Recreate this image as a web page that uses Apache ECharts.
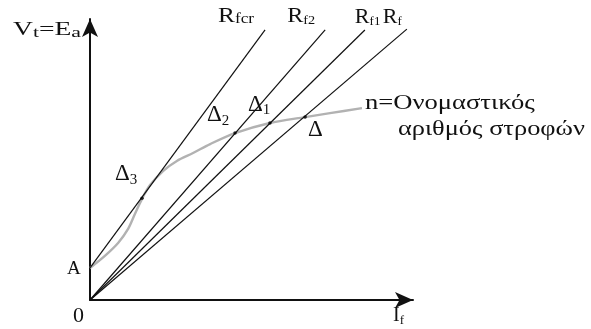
<!DOCTYPE html>
<html>
<head>
<meta charset="utf-8">
<script src="https://cdn.jsdelivr.net/npm/echarts@6/dist/echarts.min.js"></script>
<style>
html,body{margin:0;padding:0;background:#fff;}
#c{width:591px;height:329px;}
</style>
</head>
<body>
<div id="c"></div>
<script>
// No-load magnetisation curve at rated speed: field current I_f vs terminal voltage V_t = E_a
const curveIf = [0.00, 0.46, 0.87, 1.18, 1.39, 1.61, 1.86, 2.26, 2.69, 3.19, 3.72, 4.49, 5.57, 6.66, 7.43, 8.42];
const curveE  = [1.14, 1.57, 2.03, 2.53, 3.06, 3.60, 4.09, 4.59, 4.95, 5.23, 5.55, 5.94, 6.30, 6.51, 6.65, 6.83];

// Field-resistance lines (start and end points)
const lineKeys    = ['fcr', 'f2', 'f1', 'f'];
const lineStartIf = [0, 0, 0, 0];
const lineStartE  = [1.14, 0, 0, 0];
const lineEndIf   = [5.42, 7.28, 8.51, 9.81];
const lineEndE    = [9.61, 9.61, 9.61, 9.64];

// Operating points where each resistance line meets the curve
const pointKeys = ['3', '2', '1', ''];
const pointIf   = [1.61, 4.49, 5.57, 6.66];
const pointE    = [3.62, 5.94, 6.30, 6.51];

const FONT = '"Liberation Serif","Times New Roman",serif';
const INK = '#111';

const chart = echarts.init(document.getElementById('c'), null, {renderer: 'canvas'});

const series = [];
series.push({
  type: 'line',
  data: curveIf.map((x, i) => [x, curveE[i]]),
  smooth: 0.3,
  showSymbol: false,
  lineStyle: {color: '#b2b2b2', width: 2.4},
  z: 2,
  silent: true
});
lineKeys.forEach((k, i) => {
  series.push({
    type: 'line',
    data: [[lineStartIf[i], lineStartE[i]], [lineEndIf[i], lineEndE[i]]],
    showSymbol: false,
    lineStyle: {color: INK, width: 1.2},
    z: 3,
    silent: true
  });
});
series.push({
  type: 'scatter',
  data: pointIf.map((x, i) => [x, pointE[i]]),
  symbolSize: 3.5,
  itemStyle: {color: '#000'},
  z: 4,
  silent: true
});

const axisCommon = {
  type: 'value',
  min: 0,
  max: 10,
  axisTick: {show: false},
  axisLabel: {show: false},
  splitLine: {show: false},
  axisLine: {
    show: true,
    symbol: ['none', 'arrow'],
    symbolSize: [12, 18],
    lineStyle: {color: INK, width: 2}
  }
};

chart.setOption({
  animation: false,
  backgroundColor: '#fff',
  grid: {left: 90, right: 178, top: 19, bottom: 29, containLabel: false},
  xAxis: Object.assign({}, axisCommon),
  yAxis: Object.assign({}, axisCommon),
  series: series
});

// Text annotations anchored to data points
function px(x, y) { return chart.convertToPixel({gridIndex: 0}, [x, y]); }

function label(text, anchor, dx, dy, o) {
  return {
    type: 'text',
    x: anchor[0] + dx,
    y: anchor[1] + dy,
    scaleX: o.sx || 1,
    silent: true,
    z: 10,
    style: {
      text: text,
      align: 'left',
      verticalAlign: 'top',
      rich: {
        m: {fontSize: o.fs, lineHeight: o.lh, fontFamily: FONT, fill: INK},
        s: {fontSize: o.sfs || 14, lineHeight: o.slh || 14, verticalAlign: 'bottom', fontFamily: FONT, fill: INK}
      }
    }
  };
}

const g = [];
const rOff = [[-47, -25], [-38, -25], [-10, -24], [-24, -23]];
const rOpt = [
  {fs: 22, lh: 22, sfs: 15, slh: 14, sx: 1.15},
  {fs: 22, lh: 22, sfs: 13, slh: 14, sx: 1.1},
  {fs: 22, lh: 22, sfs: 13, slh: 14, sx: 1.0},
  {fs: 22, lh: 22, sfs: 13, slh: 14, sx: 1.0}
];
lineKeys.forEach((k, i) => {
  g.push(label('{m|R}{s|' + k + '}', px(lineEndIf[i], lineEndE[i]), rOff[i][0], rOff[i][1], rOpt[i]));
});
const dOff = [[-27, -37], [-28, -31], [-22, -31], [3, 0]];
pointKeys.forEach((k, i) => {
  const t = k ? '{m|Δ}{s|' + k + '}' : '{m|Δ}';
  g.push(label(t, px(pointIf[i], pointE[i]), dOff[i][0], dOff[i][1],
    {fs: 23, lh: 26, sfs: 15, slh: 11}));
});
g.push(label('{m|V}{s|t}{m|=E}{s|a}', px(0, 10), -77, 0, {fs: 19, lh: 22, sfs: 15, slh: 13, sx: 1.45}));
g.push(label('{m|A}', px(curveIf[0], curveE[0]), -23, -10, {fs: 19, lh: 22}));
g.push(label('{m|0}', px(0, 0), -17, 4, {fs: 22, lh: 24}));
g.push(label('{m|I}{s|f}', px(10, 0), -20, 5, {fs: 20, lh: 22, sfs: 13, slh: 13}));
const last = curveIf.length - 1;
const endPt = px(curveIf[last], curveE[last]);
g.push(label('{m|n=Ονομαστικός}', endPt, 3, -15, {fs: 20, lh: 22, sx: 1.33}));
g.push(label('{m|αριθμός στροφών}', endPt, 36, 11, {fs: 20, lh: 22, sx: 1.32}));

chart.setOption({graphic: {elements: g}});
</script>
</body>
</html>
